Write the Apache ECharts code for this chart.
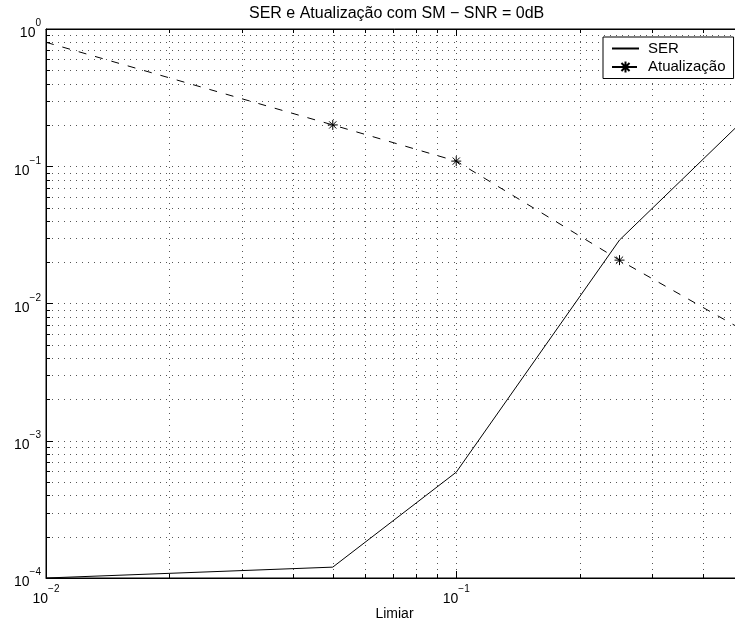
<!DOCTYPE html>
<html><head><meta charset="utf-8">
<script src="https://cdn.jsdelivr.net/npm/echarts@6/dist/echarts.min.js"></script>
<style>html,body{margin:0;padding:0;background:#fff;overflow:hidden;width:735px;height:627px}#c{width:745px;height:627px}</style>
</head><body><div id="c"></div>
<script>
// ---- data ----
const limiar = [0.01, 0.05, 0.1, 0.25, 0.5];
const ser = [1.0e-4, 1.2e-4, 5.9e-4, 0.029, 0.215];
const atualizacao = [0.80, 0.20, 0.109, 0.0207, 0.0064];
const atualizacaoMarked = [false, true, true, true, false];
const seriesNames = ['SER', 'Atualização'];
const titleText = 'SER e Atualização com SM − SNR = 0dB';
const xName = 'Limiar';
// minor grid positions (log decades 2..9)
const xMinorTicks = [0.02, 0.03, 0.04, 0.05, 0.06, 0.07, 0.08, 0.09, 0.2, 0.3, 0.4];
const yMinorTicks = [];
[1e-4, 1e-3, 1e-2, 1e-1].forEach(d => { for (let k = 2; k <= 9; k++) yMinorTicks.push(+(k * d).toPrecision(3)); });

const FONT = '"Liberation Sans", Arial, Helvetica, sans-serif';
const GRID_COLOR = '#555';
const DOT = [1, 5];

function powLabel(v) {
  const l = Math.log10(v);
  const e = Math.round(l);
  if (Math.abs(l - e) > 1e-6) return '';
  const s = e < 0 ? '\u2212' + (-e) : String(e);
  return '{b|10}{s|' + s + '}';
}
const rich = {
  b: { fontSize: 14, fontFamily: FONT, color: '#000', lineHeight: 22, verticalAlign: 'bottom' },
  s: { fontSize: 10, fontFamily: FONT, color: '#000', lineHeight: 10, verticalAlign: 'top' }
};

const chart = echarts.init(document.getElementById('c'), null, { renderer: 'canvas' });

const baseX = {
  type: 'log', logBase: 10, min: 0.01, max: 0.5,
  axisLine: { show: true, lineStyle: { color: '#000', width: 1 } },
  axisTick: { show: true, inside: true, length: 7, lineStyle: { color: '#000' } },
  splitLine: { show: false },
  minorTick: { show: false }
};

chart.setOption({
  animation: false,
  backgroundColor: '#fff',
  title: {
    text: titleText, left: 244, top: 1,
    textStyle: { fontSize: 16, fontWeight: 'normal', color: '#000', fontFamily: FONT }
  },
  legend: {
    data: [
      { name: seriesNames[0], itemStyle: { color: 'rgba(0,0,0,0)', borderColor: 'rgba(0,0,0,0)', borderWidth: 0 } },
      { name: seriesNames[1] }
    ],
    orient: 'vertical', left: 603, top: 37,
    padding: [4, 8, 4, 8], itemWidth: 27, itemHeight: 14, itemGap: 3.5,
    borderColor: '#000', borderWidth: 1, backgroundColor: '#fff', z: 10,
    textStyle: { fontSize: 15, color: '#000', fontFamily: FONT, padding: [0, 0, 0, 4] }
  },
  grid: { left: 46, right: 2, top: 29, bottom: 49, outerBoundsMode: 'none', containLabel: false, show: true, borderColor: '#000', borderWidth: 1, backgroundColor: 'transparent' },
  xAxis: [
    Object.assign({}, baseX, {
      position: 'bottom',
      name: xName, nameLocation: 'middle', nameGap: 29, nameMoveOverlap: false,
      nameTextStyle: { fontSize: 14, color: '#000', fontFamily: FONT },
      axisLabel: { show: true, margin: 6, formatter: powLabel, rich: rich, showMinLabel: true, showMaxLabel: false },
      splitLine: { show: true, lineStyle: { color: GRID_COLOR, type: DOT, width: 1 } }
    }),
    Object.assign({}, baseX, { position: 'top', axisLabel: { show: false } })
  ],
  yAxis: {
    type: 'log', logBase: 10, min: 1e-4, max: 1,
    axisLine: { show: true, lineStyle: { color: '#000', width: 1 } },
    axisTick: { show: true, inside: true, length: 7, lineStyle: { color: '#000' } },
    axisLabel: { show: true, margin: 5, formatter: powLabel, rich: rich, align: 'right', padding: [1, 0, 0, 0] },
    splitLine: { show: true, lineStyle: { color: GRID_COLOR, type: DOT, width: 1 } },
    minorTick: { show: false }
  },
  series: [
    {
      type: 'custom', name: 'xminor', silent: true, xAxisIndex: 0, yAxisIndex: 0, z: 1,
      data: xMinorTicks.map(v => [v, 1]),
      renderItem: (params, api) => {
        const cs = params.coordSys;
        const x = Math.round(api.coord([api.value(0), 1])[0]) + 0.5;
        const top = cs.y, bot = cs.y + cs.height;
        return { type: 'group', children: [
          { type: 'line', shape: { x1: x, y1: top, x2: x, y2: bot }, style: { stroke: GRID_COLOR, lineWidth: 1, lineDash: DOT } },
          { type: 'line', shape: { x1: x, y1: bot, x2: x, y2: bot - 4 }, style: { stroke: '#000', lineWidth: 1 } },
          { type: 'line', shape: { x1: x, y1: top, x2: x, y2: top + 4 }, style: { stroke: '#000', lineWidth: 1 } }
        ]};
      }
    },
    {
      type: 'custom', name: 'yminor', silent: true, xAxisIndex: 0, yAxisIndex: 0, z: 1,
      data: yMinorTicks.map(v => [0.01, v]),
      renderItem: (params, api) => {
        const cs = params.coordSys;
        const y = Math.round(api.coord([0.01, api.value(1)])[1]) + 0.5;
        const l = cs.x, r = cs.x + cs.width;
        return { type: 'group', children: [
          { type: 'line', shape: { x1: l, y1: y, x2: r, y2: y }, style: { stroke: GRID_COLOR, lineWidth: 1, lineDash: DOT } },
          { type: 'line', shape: { x1: l, y1: y, x2: l + 4, y2: y }, style: { stroke: '#000', lineWidth: 1 } }
        ]};
      }
    },
    {
      name: seriesNames[0], type: 'line', z: 5,
      data: limiar.map((x, i) => [x, ser[i]]),
      symbol: 'none', color: '#000',
      lineStyle: { color: '#000', width: 1, type: 'solid' }
    },
    {
      name: seriesNames[1], type: 'line', z: 5,
      data: limiar.map((x, i) => atualizacaoMarked[i] ? [x, atualizacao[i]] : { value: [x, atualizacao[i]], symbol: 'none' }),
      symbol: 'path://M0,-1L0,1M-1,0L1,0M-0.72,-0.72L0.72,0.72M-0.72,0.72L0.72,-0.72',
      symbolSize: 10, showAllSymbol: true, color: '#000',
      itemStyle: { color: '#000', borderColor: '#000', borderWidth: 1 },
      lineStyle: { color: '#000', width: 1, type: [8, 9] }
    }
  ]
});
</script></body></html>
